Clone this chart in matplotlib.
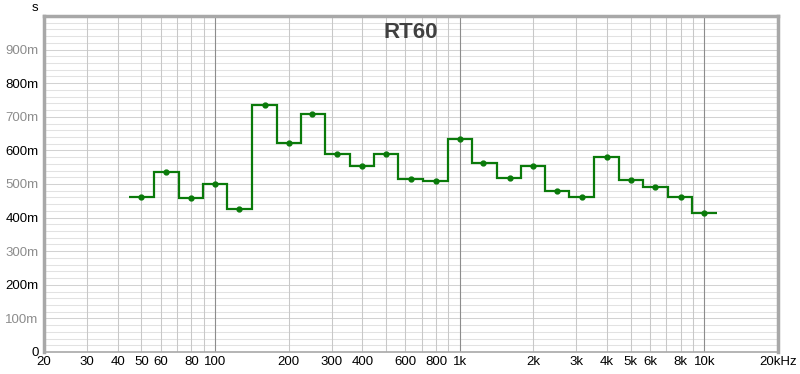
import numpy as np
import matplotlib
matplotlib.use("Agg")
import matplotlib.pyplot as plt
from matplotlib.ticker import FixedLocator, NullFormatter

plt.rcParams['font.family'] = ['Liberation Sans', 'DejaVu Sans']

# third-octave band centres (Hz) and RT60 values (seconds)
bands = [50, 63, 80, 100, 125, 160, 200, 250, 315, 400, 500, 630, 800,
         1000, 1250, 1600, 2000, 2500, 3150, 4000, 5000, 6300, 8000, 10000]
rt60 = [0.462, 0.537, 0.458, 0.501, 0.425, 0.735, 0.622, 0.708, 0.590, 0.555,
        0.588, 0.516, 0.509, 0.634, 0.562, 0.519, 0.554, 0.480, 0.461, 0.579,
        0.511, 0.492, 0.461, 0.414]

x_ticks = [20, 30, 40, 50, 60, 80, 100, 200, 300, 400, 600, 800, 1000,
           2000, 3000, 4000, 5000, 6000, 8000, 10000, 20000]
x_tick_labels = ["20", "30", "40", "50", "60", "80", "100", "200", "300", "400",
                 "600", "800", "1k", "2k", "3k", "4k", "5k", "6k", "8k", "10k", "20kHz"]
y_ticks = [0, 0.1, 0.2, 0.3, 0.4, 0.5, 0.6, 0.7, 0.8, 0.9]
y_tick_labels = ["0", "100m", "200m", "300m", "400m", "500m", "600m", "700m", "800m", "900m"]

fig = plt.figure(figsize=(8.0, 3.74), dpi=100)
ax = fig.add_axes([44/800, 22/374, (778-44)/800, (352-16)/374])
ax.set_xscale('log')
ax.set_xlim(20, 20000)
ax.set_ylim(0, 1.0)

# grid: horizontals first, then verticals on top
for k in range(1, 50):
    yv = k * 0.02
    col = '#d2d2d2' if k % 5 == 0 else '#e2e2e2'
    ax.axhline(yv, color=col, lw=0.75, zorder=1)
c = np.array(bands, dtype=float)
minor_v = [m * d for d in (10, 100, 1000, 10000) for m in range(1, 10) if 20 <= m * d <= 20000]
for f in minor_v:
    if f in (100, 1000, 10000):
        ax.axvline(f, color='#8c8c8c', lw=0.8, zorder=2)
    else:
        ax.axvline(f, color='#c8c8c8', lw=0.75, zorder=2)

# step line over band edges
edges = np.concatenate(([c[0] / 2 ** (1 / 6)], np.sqrt(c[:-1] * c[1:]), [c[-1] * 2 ** (1 / 6)]))
ax.stairs(rt60, edges, baseline=None, color='#0a7a0a', lw=1.6, zorder=3)
ax.plot(bands, rt60, 'o', color='#0a7a0a', ms=3.5, zorder=4)

ax.xaxis.set_major_locator(FixedLocator(x_ticks))
ax.xaxis.set_minor_locator(FixedLocator([]))
ax.xaxis.set_minor_formatter(NullFormatter())
ax.set_xticklabels(x_tick_labels)
ax.set_yticks(y_ticks)
ax.set_yticklabels(y_tick_labels)
ax.tick_params(axis='both', length=0, labelsize=9.5)
ax.tick_params(axis='x', pad=3)
ax.tick_params(axis='y', pad=4)
for lbl, v in zip(ax.get_yticklabels(), y_ticks):
    k = int(round(v * 10))
    lbl.set_color('#000000' if k % 2 == 0 else '#8c8c8c')

for name, sp in ax.spines.items():
    sp.set_color('#a8a8a8')
    sp.set_linewidth(2.5 if name != 'bottom' else 1.2)
    sp.set_zorder(5)

ax.text(0.5, 1 - 17/336, "RT60", transform=ax.transAxes, ha='center', va='center',
        fontsize=16, fontweight='bold', color='#404040', zorder=6)
fig.text(35/800, 1 - 8/374, "s", ha='center', va='center', fontsize=9.5)

fig.savefig("out.png", dpi=100, facecolor='white')
